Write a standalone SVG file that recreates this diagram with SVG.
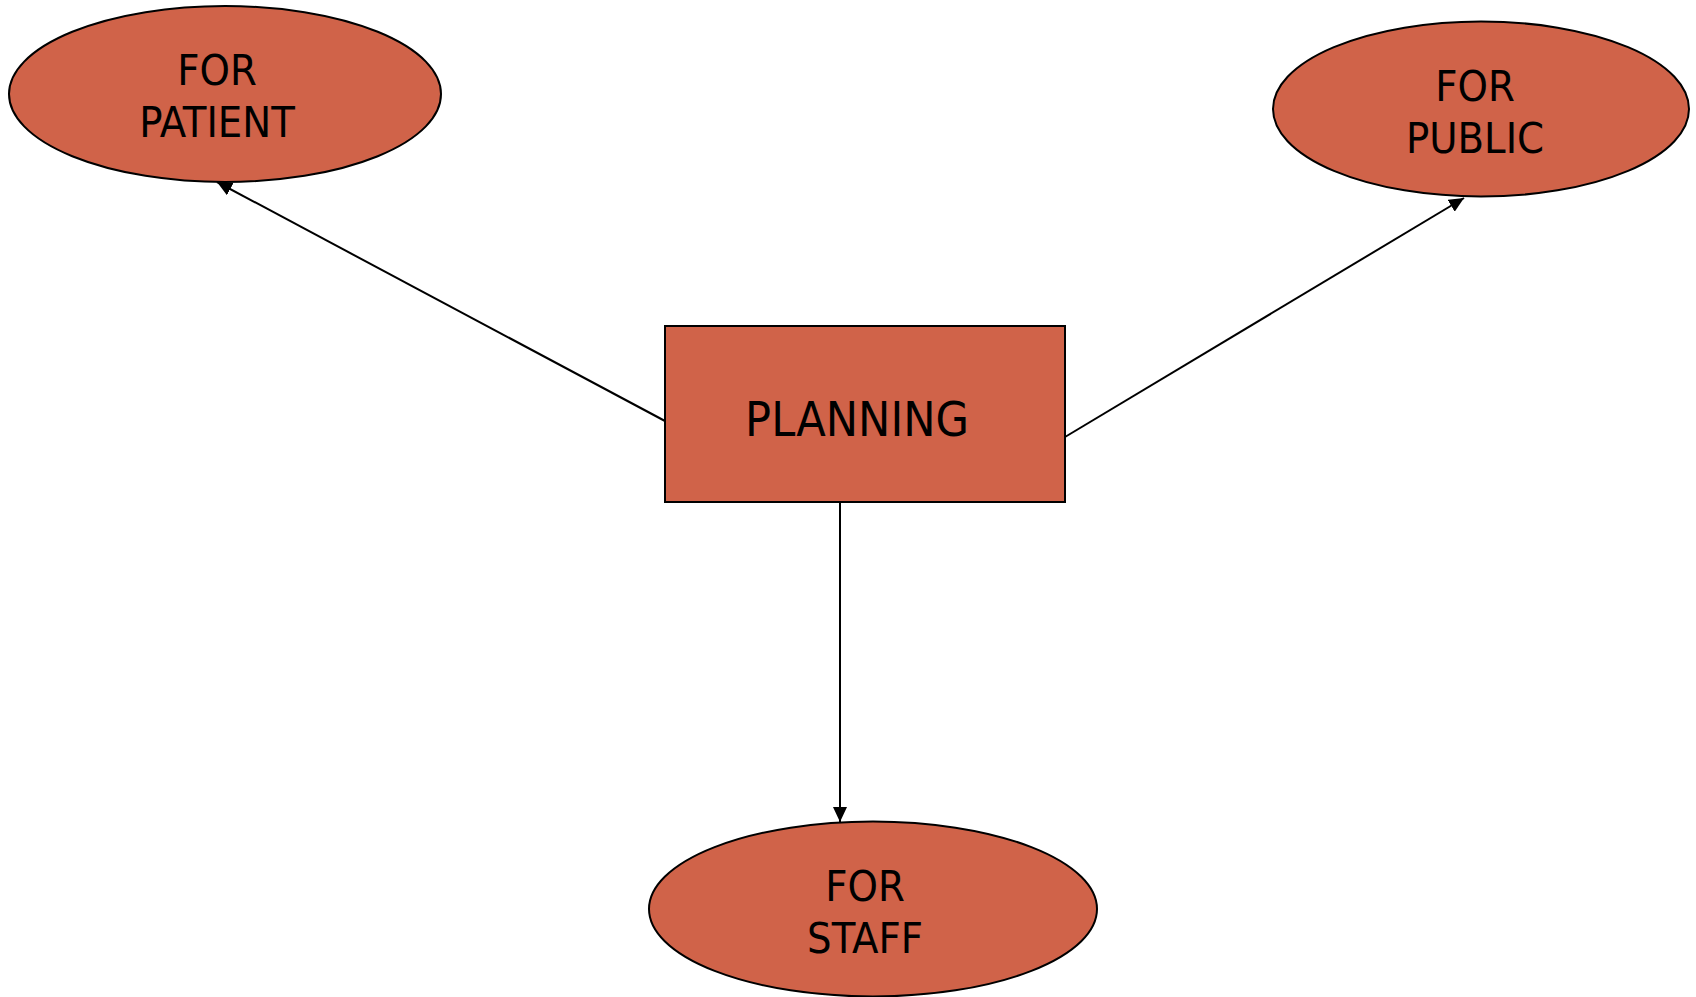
<svg xmlns="http://www.w3.org/2000/svg" width="1696" height="997" viewBox="0 0 1696 997">
  <style>
    .node { fill: #D06349; stroke: #000; stroke-width: 2; }
    .label { font-family: "DejaVu Sans Condensed", "DejaVu Sans", sans-serif; font-stretch: condensed; fill: #000; text-anchor: middle; }
    .small { font-size: 43px; }
    .big { font-size: 48px; }
    .edge { stroke: #000; stroke-width: 2; fill: none; marker-end: url(#arrow); }
  </style>
  <defs>
    <marker id="arrow" markerUnits="userSpaceOnUse" markerWidth="16" markerHeight="14" refX="15" refY="7" orient="auto">
      <path d="M0,0 L15,7 L0,14 z" fill="#000"/>
    </marker>
  </defs>
  <rect width="1696" height="997" fill="#fff"/>

  <!-- connectors, drawn beneath the nodes -->
  <g id="connectors">
    <line class="edge" x1="665" y1="421" x2="217" y2="182"/>
    <line class="edge" x1="1065" y1="437" x2="1464" y2="198"/>
    <line class="edge" x1="840" y1="502" x2="840" y2="822"/>
  </g>

  <g id="planning">
    <rect class="node" x="665" y="326" width="400" height="176"/>
    <text class="label big" x="857" y="436">PLANNING</text>
  </g>

  <g id="for-patient">
    <ellipse class="node" cx="225" cy="94" rx="216" ry="88"/>
    <text class="label small" x="217" y="85">FOR</text>
    <text class="label small" x="217" y="137">PATIENT</text>
  </g>

  <g id="for-public">
    <ellipse class="node" cx="1481" cy="109" rx="208" ry="87.5"/>
    <text class="label small" x="1475" y="101">FOR</text>
    <text class="label small" x="1475" y="153">PUBLIC</text>
  </g>

  <g id="for-staff">
    <ellipse class="node" cx="873" cy="909" rx="224" ry="87.5"/>
    <text class="label small" x="865" y="901">FOR</text>
    <text class="label small" x="865" y="953">STAFF</text>
  </g>
</svg>
